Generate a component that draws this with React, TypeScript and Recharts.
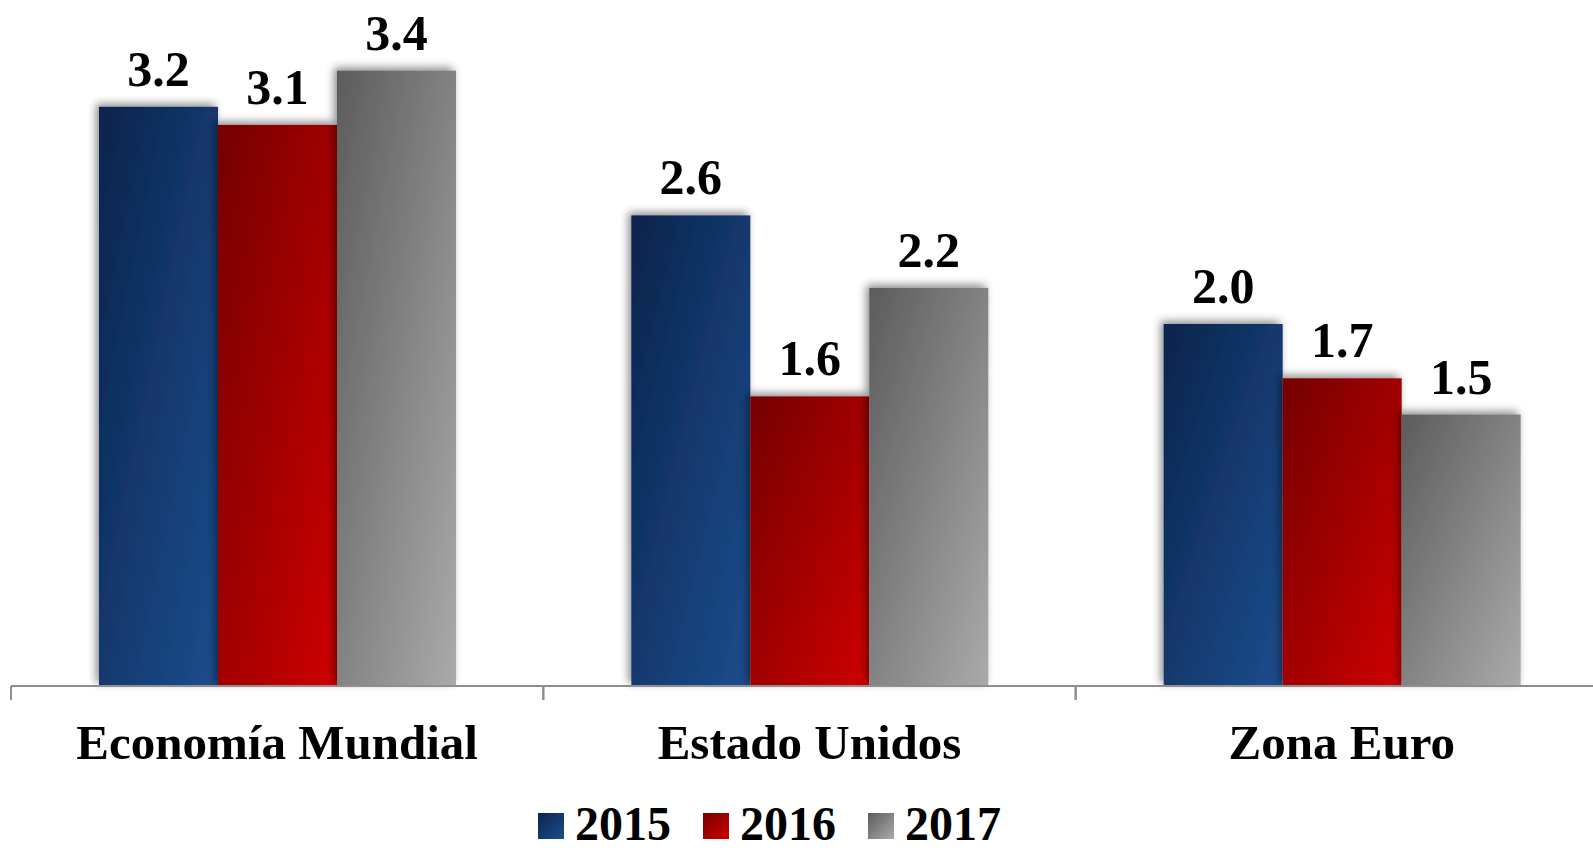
import { Bar, BarChart, LabelList, Legend, XAxis, YAxis } from "recharts";

const categories = ["Economía Mundial", "Estado Unidos", "Zona Euro"];
const values2015 = [3.2, 2.6, 2.0];
const values2016 = [3.1, 1.6, 1.7];
const values2017 = [3.4, 2.2, 1.5];

const seriesKeys = ["2015", "2016", "2017"];
// gradiente diagonal (esq. superior escura -> dir. inferior clara)
const gradients: Record<string, [string, string]> = {
  "2015": ["#0a244c", "#1c4d8e"],
  "2016": ["#740000", "#cf0000"],
  "2017": ["#5c5c5c", "#aaaaaa"],
};

const data = categories.map((name, i) => ({
  name,
  "2015": values2015[i],
  "2016": values2016[i],
  "2017": values2017[i],
}));

const FONT = '"Liberation Serif", "Times New Roman", serif';

function CategoryTick(props: any) {
  const { x, y, payload } = props;
  const half = payload?.offset ?? 266;
  return (
    <g>
      <line x1={x - half} x2={x - half} y1={y} y2={y + 14} stroke="#8e8e8e" strokeWidth={2} />
      <line x1={x + half} x2={x + half} y1={y} y2={y + 14} stroke="#8e8e8e" strokeWidth={2} />
      <text
        x={x}
        y={y}
        dy={73}
        textAnchor="middle"
        fill="#000"
        fontFamily={FONT}
        fontWeight="bold"
        fontSize={49}
      >
        {payload.value}
      </text>
    </g>
  );
}

function ShadowBar(props: any) {
  const { x, y, width, height, fill } = props;
  if (!height || height <= 0) return null;
  return <rect x={x} y={y} width={width} height={height} fill={fill} filter="url(#barShadow)" />;
}

function LegendContent() {
  return (
    <div style={{ display: "flex", alignItems: "center", gap: 32, fontFamily: FONT }}>
      {seriesKeys.map((key) => (
        <div key={key} style={{ display: "flex", alignItems: "center", gap: 11 }}>
          <div
            style={{
              width: 26,
              height: 26,
              marginTop: 4,
              background: `linear-gradient(135deg, ${gradients[key][0]}, ${gradients[key][1]})`,
            }}
          />
          <span style={{ fontSize: 48, lineHeight: "48px", fontWeight: "bold", color: "#000" }}>{key}</span>
        </div>
      ))}
    </div>
  );
}

export default function App() {
  return (
    <div
      style={{
        position: "absolute",
        top: 0,
        left: 0,
        width: 1593,
        height: 852,
        overflow: "hidden",
        background: "#fff",
      }}
    >
      <BarChart
        width={1608}
        height={852}
        data={data}
        margin={{ top: 52.5, right: 0, bottom: 0, left: 11 }}
        barCategoryGap={88}
        barGap={0}
      >
        <defs>
          {seriesKeys.map((key) => (
            <linearGradient key={key} id={`grad${key}`} x1="0" y1="0" x2="1" y2="1">
              <stop offset="0%" stopColor={gradients[key][0]} />
              <stop offset="100%" stopColor={gradients[key][1]} />
            </linearGradient>
          ))}
          <filter id="barShadow" x="-20%" y="-20%" width="140%" height="140%">
            <feDropShadow dx={-3} dy={-3} stdDeviation={4} floodColor="#000" floodOpacity={0.45} />
          </filter>
        </defs>
        <YAxis hide domain={[0, 3.5]} />
        <XAxis
          dataKey="name"
          height={166}
          axisLine={{ stroke: "#8e8e8e", strokeWidth: 2 }}
          tickLine={false}
          tickSize={0}
          tickMargin={0}
          interval={0}
          tick={<CategoryTick />}
        />
        <Legend
          layout="horizontal"
          verticalAlign="middle"
          align="center"
          wrapperStyle={{ top: 800, left: 538, width: "auto" }}
          content={<LegendContent />}
        />
        {seriesKeys.map((key) => (
          <Bar
            key={key}
            dataKey={key}
            fill={`url(#grad${key})`}
            shape={<ShadowBar />}
            isAnimationActive={false}
          >
            <LabelList
              dataKey={key}
              position="top"
              offset={21}
              formatter={(v: any) => Number(v).toFixed(1)}
              fill="#000"
              fontFamily={FONT}
              fontWeight="bold"
              fontSize={50}
            />
          </Bar>
        ))}
      </BarChart>
    </div>
  );
}
